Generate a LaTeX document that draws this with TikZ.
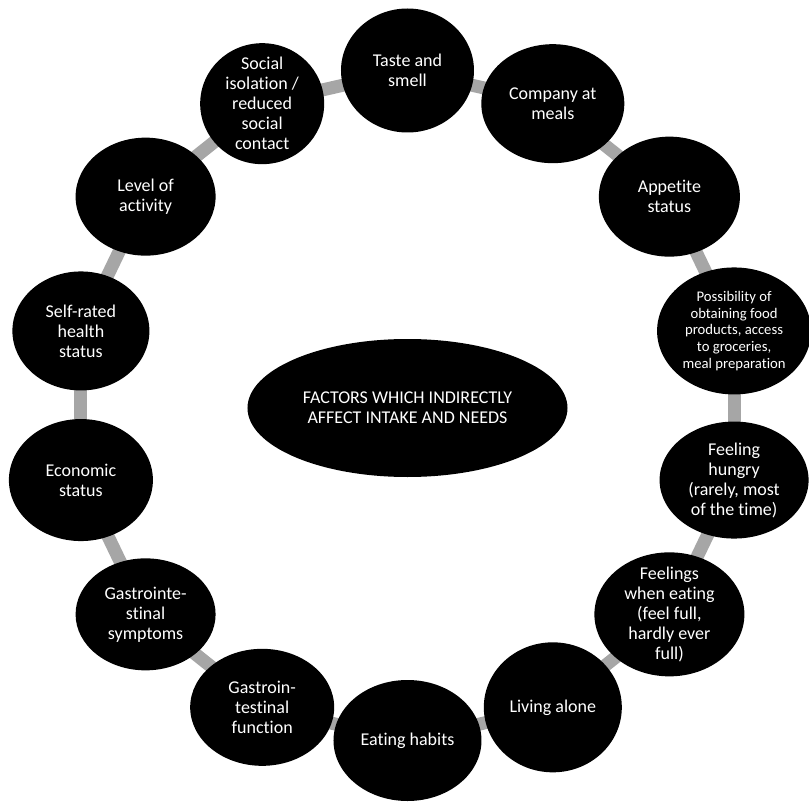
\documentclass[tikz,border=0pt]{standalone}
\usepackage{fontspec}
\setmainfont{Carlito}[Ligatures=NoCommon]
\usetikzlibrary{shapes.geometric,backgrounds}

\definecolor{linkgray}{RGB}{166,166,166}

\begin{document}
\begin{tikzpicture}[
        factor/.style={ellipse, fill=black, text=white, minimum width=142pt, minimum height=120pt, inner sep=-12pt, align=center, font=\fontsize{18}{20}\selectfont},
        size/.style 2 args={minimum width=#1pt, minimum height=#2pt},
        smalltext/.style={font=\fontsize{14.7}{16.8}\selectfont},
        hub/.style={ellipse, fill=black, text=white, minimum width=320pt, minimum height=138pt, align=center, font=\fontsize{18}{20}\selectfont},
        link/.style={linkgray, line width=13pt, shorten <=-6pt, shorten >=-6pt}
    ]
        \useasboundingbox (-407.5pt,-395.5pt) rectangle (401.5pt,405.5pt);

        % Ring of factors, one every 360/14 degrees
        \node[factor, size={133}{124}] (taste) at (90:335pt) {Taste and\\smell};
        \node[factor, size={143}{119}] (company) at (64.29:335pt) {Company at\\meals};
        \node[factor, size={141}{120}] (appetite) at (38.57:335pt) {Appetite\\status};
        \node[factor, smalltext, size={154}{127}] (groceries) at (12.86:335pt) {Possibility of\\obtaining food\\products, access\\to groceries,\\meal preparation};
        \node[factor, size={149}{117}] (hungry) at (-12.86:335pt) {Feeling\\hungry\\(rarely, most\\of the time)};
        \node[factor, size={150}{124}] (eating) at (-38.57:335pt) {Feelings\\when eating\\(feel full,\\hardly ever\\full)};
        \node[factor, size={138}{130}] (alone) at (-64.29:335pt) {Living alone};
        \node[factor, size={148}{121}] (habits) at (-90:335pt) {Eating habits};
        \node[factor, size={144}{117}] (gifunction) at (-115.71:335pt) {Gastroin-\\testinal\\function};
        \node[factor, size={140}{112}] (gisymptoms) at (-141.43:335pt) {Gastrointe-\\stinal\\symptoms};
        \node[factor, size={144}{122}] (economic) at (-167.14:335pt) {Economic\\status};
        \node[factor, size={137}{119}] (health) at (167.14:335pt) {Self-rated\\health\\status};
        \node[factor, size={140}{118}] (activity) at (141.43:335pt) {Level of\\activity};
        \node[factor, size={124}{121}] (isolation) at (115.71:335pt) {Social\\isolation /\\reduced\\social\\contact};

        % Centre
        \node[hub] (centre) at (0pt,-2.5pt) {FACTORS WHICH INDIRECTLY\\AFFECT INTAKE AND NEEDS};

        % Gray bars between neighbours
        \begin{scope}[on background layer]
            \foreach \a/\b in {taste/company, company/appetite, appetite/groceries, groceries/hungry, hungry/eating, eating/alone, alone/habits, habits/gifunction, gifunction/gisymptoms, gisymptoms/economic, economic/health, health/activity, activity/isolation, isolation/taste}
                \draw[link] (\a) -- (\b);
        \end{scope}
    \end{tikzpicture}
\end{document}
